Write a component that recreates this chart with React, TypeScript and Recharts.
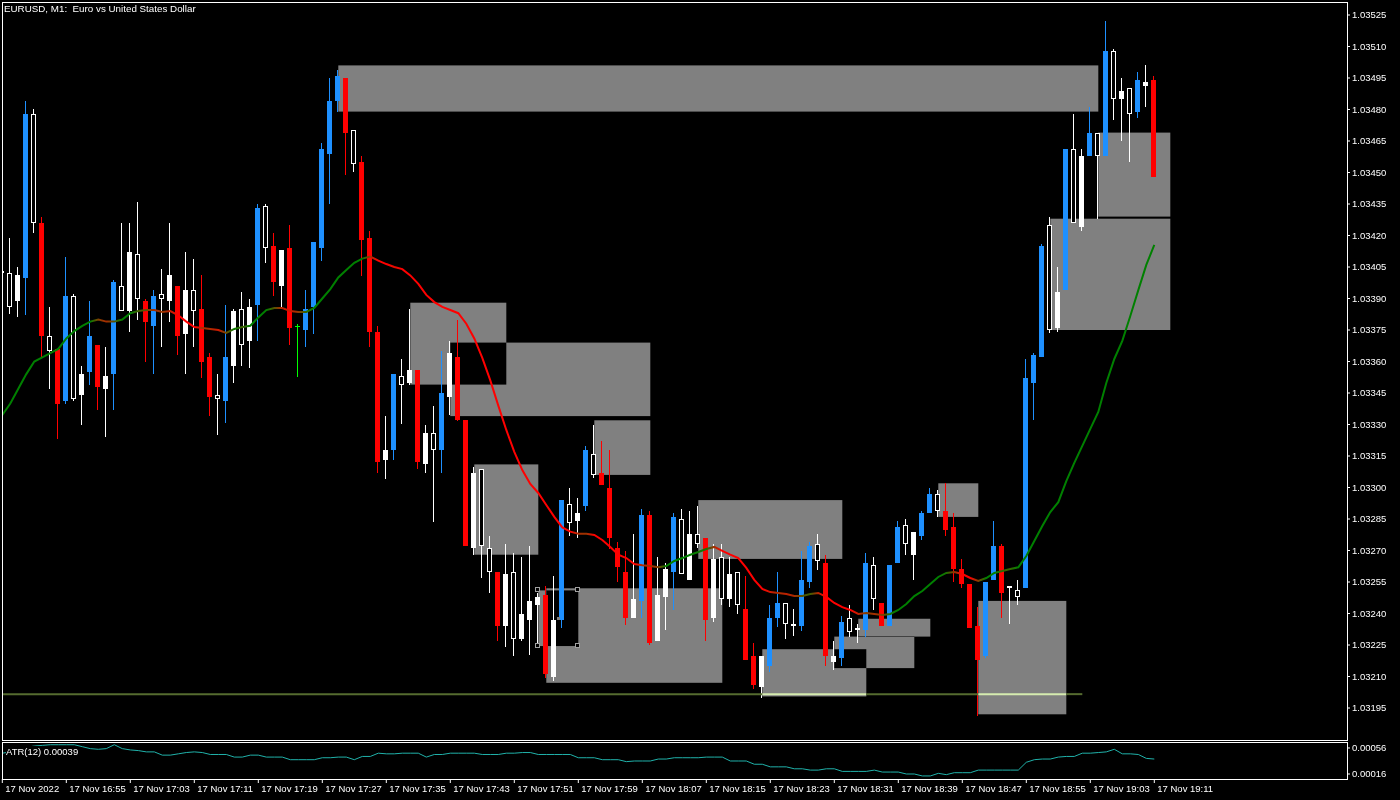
import React from 'react';
import { ComposedChart, Bar, Line, XAxis, YAxis, ReferenceArea, ReferenceLine, ReferenceDot } from 'recharts';

// EURUSD M1, 17 Nov 2022, 16:47 .. 19:11 — prices in 1e-5 above 1.00000 (3402 -> 1.03402)
const OPEN = [
  3402, 3402, 3389, 3400, 3478, 3426, 3372, 3366, 3341, 3391, 3344, 3355, 3368, 3347, 3354, 3396, 3384, 3411, 3389, 3377,
  3392, 3389, 3396, 3373, 3394, 3385, 3362, 3344, 3341, 3358, 3385, 3370, 3387, 3434, 3415, 3396, 3414, 3377, 3375, 3386,
  3414, 3459, 3484, 3495, 3470, 3455, 3419, 3374, 3313, 3318, 3353, 3350, 3356, 3311, 3326, 3318, 3343, 3362, 3332, 3271,
  3309, 3271, 3260, 3234, 3260, 3228, 3237, 3244, 3249, 3210, 3237, 3292, 3284, 3291, 3316, 3307, 3300, 3271, 3260, 3238,
  3246, 3287, 3227, 3248, 3260, 3285, 3256, 3278, 3276, 3238, 3267, 3247, 3260, 3242, 3220, 3205, 3215, 3238, 3245, 3235,
  3234, 3255, 3273, 3264, 3217, 3219, 3238, 3232, 3232, 3263, 3245, 3234, 3264, 3282, 3268, 3277, 3288, 3297, 3289, 3281,
  3261, 3254, 3234, 3220, 3256, 3272, 3252, 3251, 3252, 3350, 3362, 3425, 3376, 3394, 3461, 3424, 3458, 3469, 3458, 3508,
  3485, 3490, 3479, 3491, 3494,
];
const HIGH = [
  3404, 3419, 3405, 3484, 3480, 3429, 3386, 3366, 3410, 3392, 3358, 3389, 3368, 3367, 3399, 3426, 3426, 3436, 3390, 3394,
  3404, 3426, 3396, 3412, 3409, 3401, 3364, 3354, 3387, 3385, 3393, 3390, 3435, 3435, 3421, 3413, 3425, 3378, 3394, 3417,
  3464, 3495, 3499, 3495, 3470, 3458, 3422, 3377, 3334, 3354, 3361, 3385, 3356, 3330, 3339, 3365, 3370, 3380, 3332, 3310,
  3309, 3277, 3260, 3273, 3269, 3267, 3272, 3250, 3253, 3258, 3294, 3300, 3295, 3320, 3330, 3322, 3318, 3274, 3270, 3278,
  3290, 3289, 3267, 3264, 3288, 3290, 3289, 3291, 3276, 3273, 3273, 3267, 3260, 3258, 3226, 3220, 3244, 3260, 3245, 3242,
  3270, 3274, 3278, 3268, 3227, 3239, 3244, 3235, 3269, 3267, 3245, 3263, 3284, 3285, 3279, 3289, 3300, 3299, 3302, 3288,
  3266, 3254, 3243, 3255, 3284, 3273, 3253, 3256, 3361, 3364, 3416, 3429, 3405, 3461, 3478, 3461, 3481, 3469, 3522, 3509,
  3495, 3490, 3498, 3501, 3496,
];
const LOW = [
  3401, 3383, 3381, 3382, 3421, 3362, 3347, 3323, 3340, 3341, 3330, 3349, 3337, 3324, 3337, 3384, 3374, 3380, 3360, 3354,
  3367, 3379, 3363, 3354, 3367, 3352, 3334, 3325, 3331, 3350, 3358, 3357, 3370, 3407, 3391, 3386, 3368, 3353, 3367, 3373,
  3408, 3435, 3479, 3449, 3450, 3401, 3367, 3307, 3304, 3313, 3330, 3349, 3309, 3307, 3284, 3307, 3335, 3332, 3272, 3268,
  3257, 3250, 3227, 3224, 3220, 3227, 3220, 3224, 3209, 3208, 3233, 3277, 3276, 3289, 3305, 3301, 3271, 3255, 3235, 3238,
  3238, 3225, 3227, 3232, 3242, 3259, 3256, 3271, 3227, 3236, 3244, 3243, 3240, 3218, 3204, 3200, 3212, 3234, 3228, 3229,
  3232, 3252, 3261, 3215, 3213, 3215, 3229, 3226, 3229, 3242, 3234, 3234, 3264, 3268, 3256, 3275, 3288, 3286, 3277, 3255,
  3252, 3233, 3191, 3219, 3256, 3238, 3235, 3244, 3252, 3332, 3362, 3374, 3374, 3394, 3426, 3422, 3458, 3428, 3458, 3475,
  3465, 3455, 3476, 3481, 3448,
];
const CLOSE = [
  3403, 3386, 3401, 3478, 3426, 3372, 3365, 3340, 3391, 3342, 3354, 3372, 3348, 3353, 3398, 3384, 3412, 3390, 3379, 3391,
  3390, 3401, 3372, 3394, 3384, 3360, 3343, 3342, 3362, 3384, 3368, 3386, 3433, 3414, 3398, 3413, 3376, 3377, 3385, 3417,
  3461, 3484, 3496, 3469, 3454, 3418, 3374, 3312, 3318, 3354, 3349, 3356, 3312, 3326, 3318, 3345, 3364, 3332, 3272, 3307,
  3272, 3260, 3234, 3259, 3228, 3240, 3246, 3248, 3211, 3237, 3294, 3283, 3288, 3318, 3306, 3301, 3276, 3262, 3238, 3247,
  3287, 3226, 3249, 3261, 3286, 3259, 3278, 3273, 3237, 3266, 3247, 3259, 3244, 3218, 3206, 3220, 3238, 3245, 3235, 3234,
  3256, 3272, 3265, 3220, 3220, 3236, 3231, 3233, 3264, 3247, 3234, 3263, 3281, 3273, 3279, 3288, 3297, 3289, 3280, 3261,
  3254, 3233, 3218, 3255, 3272, 3250, 3253, 3248, 3352, 3363, 3415, 3375, 3393, 3461, 3426, 3458, 3469, 3458, 3508, 3485,
  3489, 3478, 3494, 3493, 3448,
];
// B = blue bull, R = red bear, W = white bull, H = hollow bear, G = doji
const KIND = [
  'W', 'H', 'W', 'B', 'H', 'R', 'H', 'R', 'B', 'H', 'W', 'B', 'R', 'W', 'B', 'H', 'W', 'H', 'R', 'B',
  'H', 'W', 'R', 'W', 'H', 'R', 'R', 'H', 'B', 'W', 'H', 'W', 'B', 'H', 'R', 'W', 'R', 'G', 'B', 'B',
  'B', 'B', 'B', 'R', 'H', 'R', 'R', 'R', 'W', 'B', 'H', 'W', 'R', 'W', 'H', 'B', 'W', 'R', 'R', 'W',
  'H', 'H', 'R', 'W', 'H', 'W', 'W', 'W', 'R', 'W', 'B', 'H', 'W', 'B', 'H', 'R', 'R', 'R', 'R', 'W',
  'B', 'R', 'W', 'W', 'B', 'H', 'W', 'H', 'R', 'W', 'H', 'W', 'H', 'R', 'R', 'W', 'B', 'B', 'H', 'H',
  'B', 'B', 'H', 'R', 'W', 'B', 'H', 'W', 'B', 'H', 'R', 'B', 'B', 'H', 'W', 'B', 'B', 'H', 'R', 'R',
  'R', 'R', 'R', 'B', 'B', 'R', 'W', 'H', 'B', 'B', 'B', 'H', 'W', 'B', 'H', 'W', 'B', 'H', 'B', 'H',
  'W', 'H', 'B', 'W', 'R',
];
const MA = [
  3334.5, 3340, 3347, 3354, 3360, 3362, 3364, 3366, 3371, 3374.5,
  3377, 3379, 3380, 3379, 3379, 3380, 3383, 3384, 3384.5, 3384.5,
  3383.6, 3384, 3382, 3379, 3376.4, 3376, 3375.5, 3375, 3373.6, 3375.5,
  3376.4, 3377, 3381, 3384.5, 3385.5, 3385.5, 3384, 3383.6, 3383.6, 3385.5,
  3390, 3394.5, 3400, 3403.6, 3407, 3409, 3410, 3408, 3406.4, 3405,
  3404, 3401, 3397, 3391.7, 3388.3, 3386, 3384.5, 3383, 3378, 3371,
  3361.7, 3351, 3339, 3327.4, 3317, 3308.3, 3301.7, 3297.4, 3291.7, 3286,
  3281, 3279, 3278, 3278, 3277.4, 3275, 3271.7, 3268, 3266.4, 3263.6,
  3263, 3262.6, 3262, 3262.6, 3265, 3266.4, 3268, 3269.3, 3270.7, 3271.7,
  3269.8, 3268, 3266.4, 3261.7, 3256, 3251.7, 3250.2, 3249.8, 3249.3, 3248.3,
  3248.3, 3249.3, 3249.8, 3247.9, 3245, 3243, 3241.7, 3239.8, 3240.2, 3239.8,
  3239.3, 3239.8, 3241.7, 3244.5, 3248.3, 3250.7, 3254, 3257.4, 3259.3, 3259.8,
  3258.8, 3256.9, 3255.5, 3256.9, 3259.3, 3260.2, 3261.2, 3262, 3267.4, 3274.5,
  3281.7, 3288.3, 3293, 3303, 3311.7, 3319.8, 3327.9, 3336, 3349.8, 3361.2,
  3369.8, 3381.7, 3394, 3406, 3415.5,
];
// ATR(12) in 1e-5
const ATR = [
  48, 50, 53, 57, 59, 60, 61, 61, 61, 61, 58, 55, 54, 55, 61, 55, 53, 52, 50, 50,
  45, 45, 47, 49, 50, 49, 46, 46, 46, 42, 42, 45, 45, 42, 42, 42, 38, 38, 38, 38,
  41, 41, 42, 42, 38, 43, 43, 48, 47, 47, 48, 48, 48, 42, 46, 46, 48, 48, 48, 48,
  46, 46, 46, 48, 48, 49, 49, 46, 46, 46, 46, 46, 41, 41, 41, 38, 38, 38, 35, 36,
  36, 36, 39, 39, 41, 41, 41, 41, 42, 42, 42, 36, 36, 36, 31, 31, 27, 27, 27, 24,
  24, 22, 22, 24, 24, 20, 20, 20, 20, 22, 19, 19, 19, 16, 16, 13, 13, 17, 15, 18,
  18, 18, 22, 22, 22, 22, 22, 22, 34, 38, 39, 39, 42, 43, 43, 48, 48, 49, 50, 54,
  47, 47, 46, 40, 39,
];

// rectangles drawn on the chart: bar index range and price range (1e-5)
const ZONES = [
  { x1: 42, x2: 137, y1: 3501, y2: 3479 },
  { x1: 51, x2: 63, y1: 3388, y2: 3349 },
  { x1: 56, x2: 81, y1: 3369, y2: 3334 },
  { x1: 74, x2: 81, y1: 3332, y2: 3306 },
  { x1: 59, x2: 67, y1: 3311, y2: 3268 },
  { x1: 68, x2: 90, y1: 3252, y2: 3207 },
  { x1: 67, x2: 72, y1: 3251, y2: 3224.5, selected: true },
  { x1: 87, x2: 105, y1: 3294, y2: 3266 },
  { x1: 95, x2: 108, y1: 3223, y2: 3200.5 },
  { x1: 104, x2: 114, y1: 3229, y2: 3214 },
  { x1: 107, x2: 116, y1: 3237.5, y2: 3229 },
  { x1: 117, x2: 122, y1: 3302, y2: 3286 },
  { x1: 122, x2: 133, y1: 3246, y2: 3192 },
  { x1: 137, x2: 146, y1: 3469, y2: 3429 },
  { x1: 131, x2: 146, y1: 3428, y2: 3375 },
];
const LEVEL = 3201.6;
const LEVEL_END = 135;

const PRICE_TICKS = [
  1.03195, 1.0321, 1.03225, 1.0324, 1.03255, 1.0327, 1.03285, 1.033, 1.03315, 1.0333, 1.03345, 1.0336,
  1.03375, 1.0339, 1.03405, 1.0342, 1.03435, 1.0345, 1.03465, 1.0348, 1.03495, 1.0351, 1.03525,
];
const ATR_TICKS = [0.00016, 0.00056];
const TIME_TICKS = [0, 8, 16, 24, 32, 40, 48, 56, 64, 72, 80, 88, 96, 104, 112, 120, 128, 136, 144];
const TIME_LABELS = [
  '17 Nov 2022', '17 Nov 16:55', '17 Nov 17:03', '17 Nov 17:11', '17 Nov 17:19', '17 Nov 17:27', '17 Nov 17:35',
  '17 Nov 17:43', '17 Nov 17:51', '17 Nov 17:59', '17 Nov 18:07', '17 Nov 18:15', '17 Nov 18:23', '17 Nov 18:31',
  '17 Nov 18:39', '17 Nov 18:47', '17 Nov 18:55', '17 Nov 19:03', '17 Nov 19:11',
];

const px = (v: number) => 1 + v / 100000;

const rows = OPEN.map((o, i) => ({
  i,
  open: px(o),
  high: px(HIGH[i]),
  low: px(LOW[i]),
  close: px(CLOSE[i]),
  kind: KIND[i],
  ma: px(MA[i]),
  atr: ATR[i] / 100000,
}));

const X_DOMAIN = [-0.0375, 168.0875];
const Y_DOMAIN = [1.0318024, 1.0353119];
const ATR_DOMAIN = [0.0000831, 0.000652];
const FONT = '"Liberation Sans", Arial, sans-serif';
const WHITE = '#ffffff';

const CANDLE_COLORS: Record<string, string> = {
  B: '#1e90ff',
  R: '#ff0000',
  W: '#ffffff',
  H: '#ffffff',
  G: '#00ff00',
};

function Candle(props: any) {
  const { x, y, width, height, payload } = props;
  if (!payload) return null;
  const top = Math.min(y, y + height);
  const h = Math.abs(height);
  const cx = Math.floor(x + width / 2);
  const span = payload.high - payload.low;
  const k = span > 0 ? h / span : 0;
  const bTop = Math.round(top + (payload.high - Math.max(payload.open, payload.close)) * k);
  const bBot = Math.round(top + (payload.high - Math.min(payload.open, payload.close)) * k);
  const c = CANDLE_COLORS[payload.kind];
  const wick = <rect x={cx} y={Math.round(top)} width={1} height={Math.max(1, Math.round(h))} fill={c} />;
  if (payload.kind === 'G') {
    return (
      <g>
        {wick}
        <rect x={cx - 2} y={bTop} width={5} height={1} fill={c} />
      </g>
    );
  }
  if (payload.kind === 'H') {
    return (
      <g>
        {wick}
        <rect x={cx - 1.5} y={bTop + 0.5} width={4} height={Math.max(0, bBot - bTop - 1)} fill="#000" stroke={WHITE} strokeWidth={1} />
      </g>
    );
  }
  return (
    <g>
      {wick}
      <rect x={cx - 2} y={bTop} width={5} height={Math.max(1, bBot - bTop)} fill={c} />
    </g>
  );
}

// objects overlap the way the terminal draws them (overlaps cancel out)
function ZoneRect(props: any) {
  const { x, y, width, height } = props;
  return <rect x={x} y={y} width={width} height={height} fill="#808080" style={{ mixBlendMode: 'difference' }} />;
}

function Handle(props: any) {
  const { cx, cy } = props;
  return <rect x={Math.round(cx) - 2.5} y={Math.round(cy) - 2.5} width={4} height={4} fill="#000" stroke="#a0a0a0" strokeWidth={1} />;
}

function CenterHandle(props: any) {
  const { cx, cy } = props;
  return <rect x={Math.round(cx) - 1} y={Math.round(cy) - 1} width={3} height={3} fill="#808080" />;
}

function TimeTick(props: any) {
  const { x, y, payload } = props;
  const idx = TIME_TICKS.indexOf(payload.value);
  return (
    <text x={x + 3} y={y} dy="0.75em" fill={WHITE} fontSize={9.5} fontFamily={FONT} textAnchor="start">
      {TIME_LABELS[idx]}
    </text>
  );
}

// slope colouring of the moving average: green rising, red falling
const maStops = MA.map((v, n) => {
  const prev = MA[Math.max(0, n - 1)];
  const next = MA[Math.min(MA.length - 1, n + 1)];
  const s = (next - prev) / 2;
  const t = Math.min(1, Math.max(0, 0.5 - s / 3));
  return {
    offset: n / (MA.length - 1),
    color: `rgb(${Math.round(255 * t)},${Math.round(128 * (1 - t))},0)`,
  };
});

// level line: pale where it crosses a rectangle
const levelSegments = (() => {
  const cuts = ZONES.filter((z) => Math.min(z.y1, z.y2) <= LEVEL && Math.max(z.y1, z.y2) >= LEVEL)
    .map((z) => [z.x1, z.x2])
    .sort((a, b) => a[0] - b[0]);
  const segs: { a: number; b: number; pale: boolean }[] = [];
  let cur = X_DOMAIN[0];
  cuts.forEach(([a, b]) => {
    if (a > cur) segs.push({ a: cur, b: a, pale: false });
    segs.push({ a, b: Math.min(b, LEVEL_END), pale: true });
    cur = b;
  });
  if (cur < LEVEL_END) segs.push({ a: cur, b: LEVEL_END, pale: false });
  return segs;
})();

const selectedZone = ZONES.find((z) => z.selected)!;
const handlePoints = [
  { x: selectedZone.x1, y: selectedZone.y1 },
  { x: selectedZone.x2, y: selectedZone.y1 },
  { x: selectedZone.x1, y: selectedZone.y2 },
  { x: selectedZone.x2, y: selectedZone.y2 },
];

const tickStyle = { fill: WHITE, fontSize: 9.5, fontFamily: FONT };

export default function App() {
  return (
    <div style={{ width: 1400, height: 800, background: '#000', position: 'relative', overflow: 'hidden', fontFamily: FONT }}>
      <style>{'body{margin:0;background:#000}'}</style>

      <div style={{ position: 'absolute', left: 0, top: 0 }}>
        <ComposedChart width={1400} height={741} data={rows} margin={{ top: 2, right: 0, bottom: 2, left: 2 }}>
          <defs>
            <linearGradient id="maGrad" x1="0" y1="0" x2="1" y2="0">
              {maStops.map((s, k) => (
                <stop key={k} offset={s.offset} stopColor={s.color} />
              ))}
            </linearGradient>
          </defs>
          <XAxis type="number" dataKey="i" domain={X_DOMAIN} allowDataOverflow hide />
          <YAxis
            orientation="right"
            domain={Y_DOMAIN}
            allowDataOverflow
            ticks={PRICE_TICKS}
            interval={0}
            width={53}
            axisLine={false}
            tickLine={{ stroke: WHITE }}
            tickSize={3}
            tickMargin={2}
            tick={tickStyle}
            tickFormatter={(v: number) => v.toFixed(5)}
          />
          {ZONES.map((z, k) => (
            <ReferenceArea key={k} x1={z.x1} x2={z.x2} y1={px(z.y1)} y2={px(z.y2)} shape={ZoneRect} ifOverflow="visible" />
          ))}
          {levelSegments.map((s, k) => (
            <ReferenceLine
              key={k}
              segment={[{ x: s.a, y: px(LEVEL) }, { x: s.b, y: px(LEVEL) }]}
              stroke={s.pale ? '#d5ebaf' : '#556b2f'}
              strokeWidth={2}
              ifOverflow="visible"
            />
          ))}
          <Bar dataKey={(d: any) => [d.low, d.high]} barSize={5} shape={Candle} isAnimationActive={false} />
          <Line
            type="linear"
            dataKey="ma"
            stroke="url(#maGrad)"
            strokeWidth={2}
            dot={false}
            activeDot={false}
            isAnimationActive={false}
          />
          {handlePoints.map((p, k) => (
            <ReferenceDot key={k} x={p.x} y={px(p.y)} r={2} shape={Handle} ifOverflow="visible" />
          ))}
          <ReferenceDot
            x={(selectedZone.x1 + selectedZone.x2) / 2}
            y={px((selectedZone.y1 + selectedZone.y2) / 2)}
            r={2}
            shape={CenterHandle}
            ifOverflow="visible"
          />
        </ComposedChart>
      </div>

      <div style={{ position: 'absolute', left: 0, top: 741 }}>
        <ComposedChart width={1400} height={59} data={rows} margin={{ top: 1, right: 0, bottom: 0, left: 2 }}>
          <XAxis
            type="number"
            dataKey="i"
            domain={X_DOMAIN}
            allowDataOverflow
            ticks={TIME_TICKS}
            interval={0}
            height={21}
            axisLine={false}
            tickLine={{ stroke: WHITE }}
            tickSize={4}
            tickMargin={2}
            tick={TimeTick}
          />
          <YAxis
            orientation="right"
            domain={ATR_DOMAIN}
            allowDataOverflow
            ticks={ATR_TICKS}
            interval={0}
            width={53}
            axisLine={false}
            tickLine={{ stroke: WHITE }}
            tickSize={3}
            tickMargin={2}
            tick={tickStyle}
            tickFormatter={(v: number) => v.toFixed(5)}
          />
          <Line type="linear" dataKey="atr" stroke="#20b2aa" strokeWidth={1} dot={false} activeDot={false} isAnimationActive={false} />
        </ComposedChart>
      </div>

      <div style={{ position: 'absolute', left: 2, top: 2, width: 1346, height: 739, border: '1px solid #fff', boxSizing: 'border-box', pointerEvents: 'none' }} />
      <div style={{ position: 'absolute', left: 2, top: 742, width: 1346, height: 38, border: '1px solid #fff', boxSizing: 'border-box', pointerEvents: 'none' }} />

      <div style={{ position: 'absolute', left: 4, top: 3, color: WHITE, fontSize: 9.8, lineHeight: '12px', whiteSpace: 'pre' }}>
        {'EURUSD, M1:  Euro vs United States Dollar'}
      </div>
      <div style={{ position: 'absolute', left: 6, top: 746, color: WHITE, fontSize: 9.5, lineHeight: '11px', background: '#000', whiteSpace: 'pre' }}>
        {'ATR(12) 0.00039'}
      </div>
    </div>
  );
}
